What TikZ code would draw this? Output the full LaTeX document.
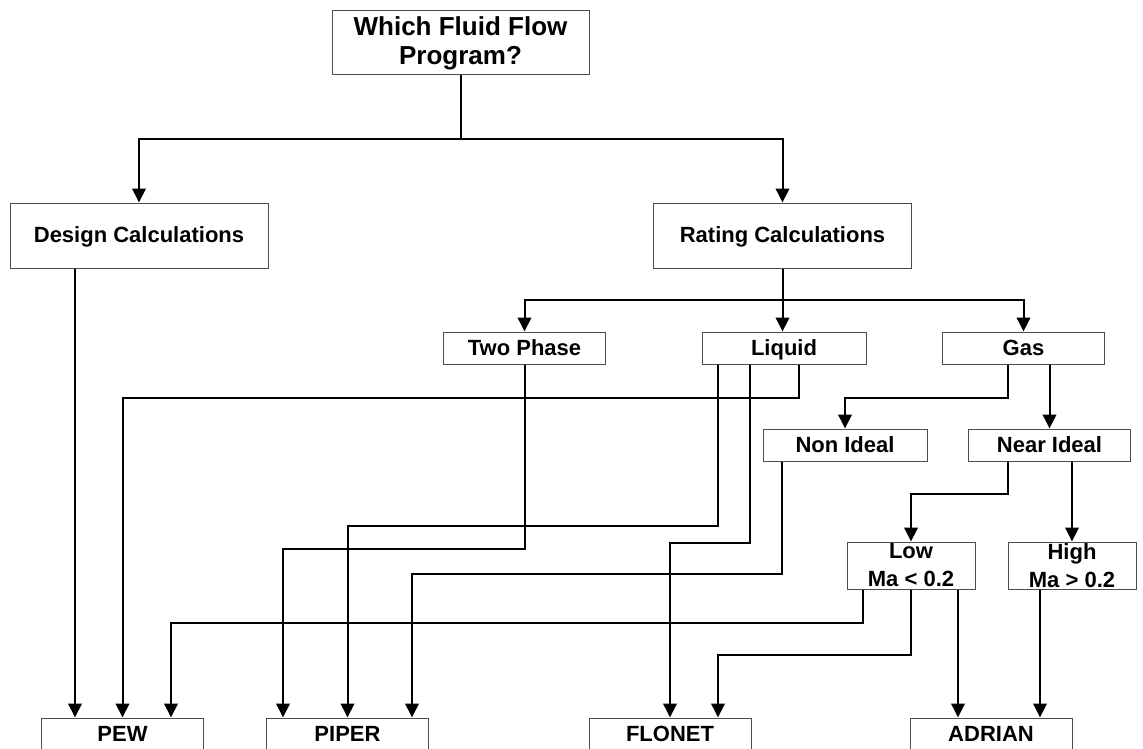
\documentclass[tikz,border=0pt]{standalone}
\usepackage{fontspec}
\setmainfont{Liberation Sans}
\usetikzlibrary{arrows.meta}
\usetikzlibrary{calc}
\colorlet{boxcol}{black!70}
\tikzset{
  box/.style={draw=boxcol,line width=1pt,fill=white,inner sep=0pt,align=center,
              font=\bfseries\fontsize{22}{28}\selectfont},
  bigbox/.style={box,minimum width=258pt,minimum height=65pt,text height=18pt,text depth=4pt},
  smallbox/.style={box,minimum width=162pt,minimum height=32pt,text height=18pt,text depth=4pt},
  machbox/.style={box,minimum width=128pt,minimum height=47pt},
  link/.style={line width=2pt},
  arr/.style={link,-{Triangle[width=13.5pt,length=14pt]}},
}

\begin{document}
\begin{tikzpicture}[x=1pt,y=-1pt]
  \clip (0,0) rectangle (1143,749);

  % BOXES
  \node[box,minimum width=257pt,minimum height=64pt,
        font=\bfseries\fontsize{26}{29}\selectfont] (top) at (460.5,43) {Which Fluid Flow\\Program?};
  \node[bigbox] (design) at (139,235.5) {Design Calculations};
  \node[bigbox] (rating) at (782.5,235.5) {Rating Calculations};
  \node[smallbox] (twophase) at (524.5,348) {Two Phase};
  \node[smallbox,minimum width=164pt] (liquid) at (784,348) {Liquid};
  \node[smallbox] (gas) at (1023.5,348) {Gas};
  \node[smallbox,minimum width=164pt] (nonideal) at (845,445) {Non Ideal};
  \node[smallbox] (nearideal) at (1049.5,445) {Near Ideal};
  \node[machbox] (low) at (911,565.5) {Low\\Ma < 0.2};
  \node[machbox] (high) at (1072,565.5) {High\\Ma > 0.2};
  \node[smallbox] (pew) at (122.5,734) {PEW};
  \node[smallbox] (piper) at (347.5,734) {PIPER};
  \node[smallbox] (flonet) at (670,734) {FLONET};
  \node[smallbox] (adrian) at (991,734) {ADRIAN};

  % SPLITS
  \coordinate (split1) at (460.5,139);
  \coordinate (split2) at (782.5,300);
  \draw[link] (top.south) -- (split1);
  \draw[arr] (split1) -| (design.north);
  \draw[arr] (split1) -| (rating.north);
  \draw[link] (rating.south) -- (split2);
  \draw[arr] (split2) -| (twophase.north);
  \draw[arr] (split2) -- (split2 |- liquid.north);
  \draw[arr] (split2) -| (gas.north);

  % GAS
  \draw[arr] ($(gas.south)+(-15.5,0)$) -- ++(0,33) -| (nonideal.north);
  \draw[arr] (gas.south -| nearideal.north) -- (nearideal.north);
  \draw[arr] ($(nearideal.south)+(-41.5,0)$) -- ++(0,32) -| (low.north);
  \draw[arr] (nearideal.south -| high.north) -- (high.north);

  % PROGRAMS
  \draw[arr] ($(design.south)+(-64,0)$) -- ($(pew.north)+(-47.5,0)$);
  \draw[arr] ($(liquid.south)+(15,0)$) -- ++(0,33) -| (pew.north);
  \draw[arr] ($(liquid.south)+(-66,0)$) -- ++(0,161) -| (piper.north);
  \draw[arr] ($(liquid.south)+(-34,0)$) -- ++(0,178) -| (flonet.north);
  \draw[arr] (twophase.south) -- ++(0,184) -| ($(piper.north)+(-64.5,0)$);
  \draw[arr] ($(nonideal.south)+(-63,0)$) -- ++(0,112) -| ($(piper.north)+(64.5,0)$);
  \draw[arr] ($(low.south)+(-48,0)$) -- ++(0,33) -| ($(pew.north)+(48.5,0)$);
  \draw[arr] (low.south) -- ++(0,65) -| ($(flonet.north)+(48,0)$);
  \draw[arr] ($(low.south)+(47,0)$) -- ($(adrian.north)+(-33,0)$);
  \draw[arr] ($(high.south)+(-32,0)$) -- ($(adrian.north)+(49,0)$);

\end{tikzpicture}
\end{document}
